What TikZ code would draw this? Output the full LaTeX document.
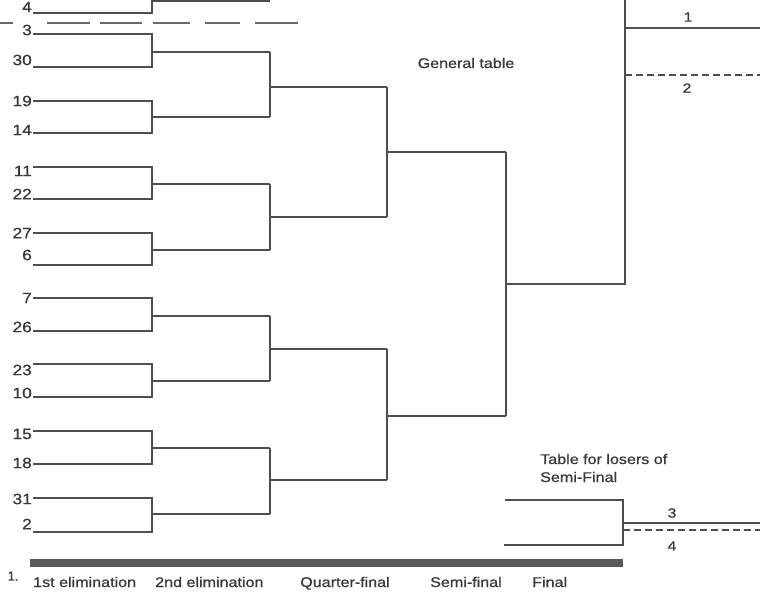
\documentclass[tikz,border=0pt]{standalone}
\usepackage{fontspec}
\setmainfont[FakeBold=0.6]{Liberation Sans}
\usepackage{graphicx}
\definecolor{linegray}{HTML}{4E4E4E}
\definecolor{txtgray}{HTML}{383838}
\definecolor{bargray}{HTML}{5A5A5A}
\newcommand{\stretchtxt}[1]{\scalebox{1.15}[1]{#1}}
\begin{document}
\begin{tikzpicture}[x=1pt,y=-1pt,
  br/.style={draw=linegray, line width=1.3pt},
  dashline/.style={draw=linegray, line width=1.3pt, dash pattern=on 7pt off 4pt},
  num/.style={anchor=east, inner sep=0pt, text=txtgray, font=\fontsize{15}{15}\selectfont},
  rnum/.style={inner sep=0pt, text=txtgray, font=\fontsize{13.5}{13.5}\selectfont},
  lab/.style={inner sep=0pt, text=txtgray, font=\fontsize{14}{14}\selectfont}]
\useasboundingbox (0,0) rectangle (760,592);
\fill[white] (0,0) rectangle (760,592);
\clip (0,0) rectangle (760,592);

% first round
\foreach \a/\b/\m in {-20/13/1, 34/67/52, 101/133/117, 167/199/184, 233/265/250,
                      298/331/316, 364/397/381, 431/464/448, 498/532/514}{
  \draw[br] (33,\a) -| (152,\b) -- (33,\b);
  \draw[br] (152,\m) -- (270,\m);
}
% second round
\foreach \a/\b/\m in {52/117/87, 184/250/217, 316/381/349, 448/514/480}{
  \draw[br] (270,\a) -- (270,\b);
  \draw[br] (270,\m) -- (387,\m);
}
% quarter-final
\foreach \a/\b/\m in {87/217/152, 349/480/416}{
  \draw[br] (387,\a) -- (387,\b);
  \draw[br] (387,\m) -- (506,\m);
}
% semi-final
\draw[br] (506,152) -- (506,416);
\draw[br] (506,284) -- (625,284) -- (625,-10);
% final
\draw[br] (625,28) -- (760,28);
\draw[dashline] (625,75) -- (760,75);
\node[rnum] (r1) at (688,17) {\stretchtxt{1}};
\node[rnum] (r2) at (687,88) {\stretchtxt{2}};

% losers table
\draw[br] (505,500) -- (623,500) -- (623,545) -- (504,545);
\draw[br] (623,523) -- (760,523);
\draw[dashline] (623,530) -- (760,530);
\node[rnum] (r3) at (672,513) {\stretchtxt{3}};
\node[rnum] (r4) at (672,546) {\stretchtxt{4}};

% top dashed separator
\foreach \s/\e in {0/13, 47/90, 100/142, 153/190, 205/240, 255/298}{
  \draw[draw=linegray!85, line width=1.3pt] (\s,23) -- (\e,23);
}

% player numbers
\foreach \t/\y in {4/7, 3/30, 30/60, 19/101, 14/130, 11/171, 22/194, 27/233, 6/255,
                   7/298, 26/327, 23/370, 10/393, 15/434, 18/463, 31/499, 2/524}{
  \node[num] (n\t) at (32,\y) {\stretchtxt{\t}};
}

% titles
\node[lab] (gt) at (466,63) {\stretchtxt{General table}};
\node[lab, anchor=west] (lt1) at (540,459) {\stretchtxt{Table for losers of}};
\node[lab, anchor=west] (lt2) at (540,477) {\stretchtxt{Semi-Final}};

% bar and round labels
\fill[bargray] (30,559) rectangle (623,567);
\node[inner sep=0pt, text=txtgray, font=\fontsize{13}{13}\selectfont] (one) at (13,576) {1.};
\node[lab, anchor=base west] (l1) at (33,587) {\stretchtxt{1st elimination}};
\node[lab, anchor=base west] (l2) at (155,587) {\stretchtxt{2nd elimination}};
\node[lab, anchor=base] (l3) at (345,587) {\stretchtxt{Quarter-final}};
\node[lab, anchor=base west] (l4) at (430,587) {\stretchtxt{Semi-final}};
\node[lab, anchor=base west] (l5) at (532,587) {\stretchtxt{Final}};
\end{tikzpicture}
\end{document}
